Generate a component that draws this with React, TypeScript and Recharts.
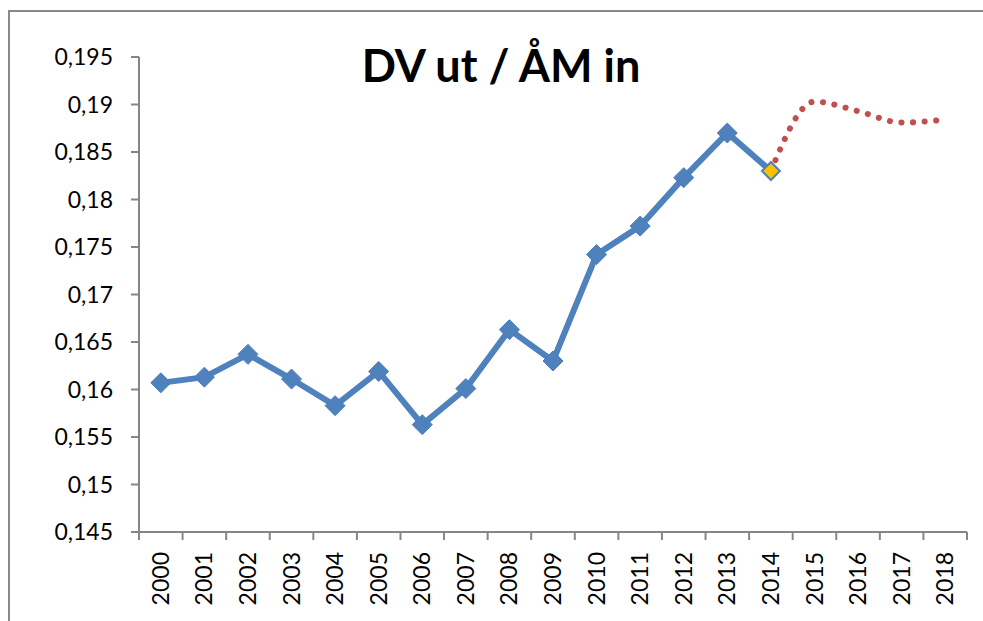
import React from 'react'
import { LineChart, Line, XAxis, YAxis } from 'recharts'

// years on the category axis
const years = ['2000','2001','2002','2003','2004','2005','2006','2007','2008','2009','2010','2011','2012','2013','2014','2015','2016','2017','2018']
// DV ut / ÅM in, outcome
const actual = [0.1607, 0.1613, 0.1637, 0.1611, 0.1583, 0.1619, 0.1563, 0.1601, 0.1663, 0.1630, 0.1742, 0.1772, 0.1823, 0.1870, 0.1830, null, null, null, null]
// forecast (dotted), starts at the last outcome
const forecast = [null, null, null, null, null, null, null, null, null, null, null, null, null, null, 0.1830, 0.1903, 0.1893, 0.1881, 0.1884]
const yTicks = [0.145, 0.15, 0.155, 0.16, 0.165, 0.17, 0.175, 0.18, 0.185, 0.19, 0.195]

const W = 983
const H = 621
const X_H = 89
const M = { top: 57, right: 16, bottom: 0, left: 0 }
const Y_W = 139
const AXIS_Y = H - X_H
const BAND = (W - M.right - Y_W) / years.length
const AXIS_C = '#868686'
const FONT = 'Lato, "Open Sans", sans-serif'

const data = years.map((y, i) => ({ year: y, value: actual[i], forecast: forecast[i] }))

const fmt = (v: number) => String(v).replace('.', ',')

function YearTick(props: any) {
  const { x, payload, index } = props
  const last = index === years.length - 1
  return (
    <g>
      <line x1={x - BAND / 2} x2={x - BAND / 2} y1={AXIS_Y} y2={AXIS_Y + 8} stroke={AXIS_C} strokeWidth={2} />
      {last && <line x1={x + BAND / 2} x2={x + BAND / 2} y1={AXIS_Y} y2={AXIS_Y + 8} stroke={AXIS_C} strokeWidth={2} />}
      <text x={x} y={AXIS_Y + 20} transform={`rotate(-90 ${x} ${AXIS_Y + 20})`} textAnchor="end" dy="0.35em"
        fontFamily={FONT} fontSize={23} fill="#000">{payload.value}</text>
    </g>
  )
}

function Diamond(props: any) {
  const { cx, cy, index } = props
  if (cx == null || cy == null || props.value == null) return null
  const orange = index === 14
  const r = orange ? 9 : 10
  const pts = `${cx},${cy - r} ${cx + r},${cy} ${cx},${cy + r} ${cx - r},${cy}`
  return <polygon key={`d-${index}`} points={pts} fill={orange ? '#ffc000' : '#4f81bd'} stroke={orange ? '#4f81bd' : '#4a7ebb'} strokeWidth={orange ? 2 : 1} />
}

export default function App() {
  return (
    <div style={{ position: 'absolute', left: 0, top: 0, width: W, height: H, background: '#fff', overflow: 'hidden' }}>
      <LineChart width={W} height={H} data={data} margin={M}>
        <XAxis dataKey="year" type="category" interval={0} tickLine={false} tick={<YearTick />}
          padding={{ left: BAND / 2, right: BAND / 2 }}
          stroke={AXIS_C} strokeWidth={2} height={X_H} />
        <YAxis type="number" domain={[0.145, 0.195]} ticks={yTicks} tickFormatter={fmt} width={Y_W}
          allowDataOverflow tickSize={8} tickMargin={18} stroke={AXIS_C} strokeWidth={2}
          tick={{ fill: '#000', fontSize: 23, fontFamily: FONT }} tickLine={{ stroke: AXIS_C, strokeWidth: 2 }} />
        <Line dataKey="forecast" type="monotone" stroke="#c0504d" strokeWidth={6} strokeDasharray="0.1 11.5"
          strokeLinecap="round" dot={false} activeDot={false} isAnimationActive={false} />
        <Line dataKey="value" type="linear" stroke="#4f81bd" strokeWidth={6} dot={<Diamond />} activeDot={false}
          isAnimationActive={false} />
      </LineChart>
      <svg width={W} height={H} style={{ position: 'absolute', left: 0, top: 0, pointerEvents: 'none' }}>
        <path d={`M9,${H} L9,11 L${W},11`} fill="none" stroke="#898989" strokeWidth={2} />
        <text x={501} y={82} textAnchor="middle" fontFamily={FONT} fontWeight="bold" fontSize={45} fill="#000">DV ut / ÅM in</text>
      </svg>
    </div>
  )
}
